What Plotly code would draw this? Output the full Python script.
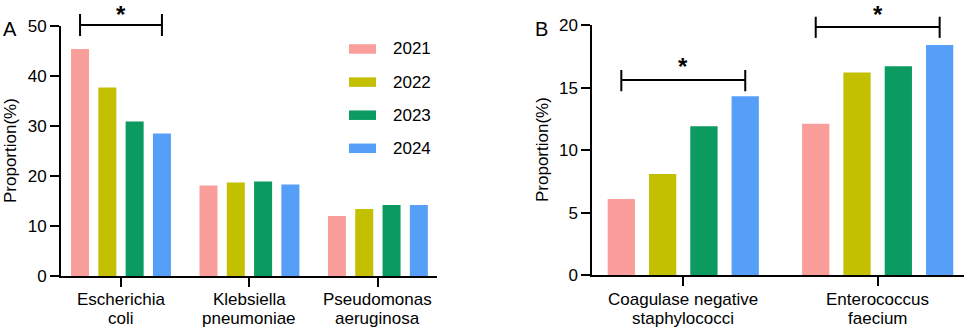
import plotly.graph_objects as go

W, H = 972, 330
FONT = "Liberation Sans, Arial, sans-serif"

years = ["2021", "2022", "2023", "2024"]
colors = ["#FA9E9C", "#C2C000", "#0B9A5F", "#569FF9"]

# Panel A
cats_a = ["Escherichia coli", "Klebsiella pneumoniae", "Pseudomonas aeruginosa"]
labels_a = [("Escherichia", "coli"), ("Klebsiella", "pneumoniae"), ("Pseudomonas", "aeruginosa")]
a_2021 = [45.4, 18.1, 12.0]
a_2022 = [37.7, 18.7, 13.4]
a_2023 = [30.9, 18.9, 14.2]
a_2024 = [28.5, 18.3, 14.2]
vals_a = [a_2021, a_2022, a_2023, a_2024]

# Panel B
cats_b = ["Coagulase negative staphylococci", "Enterococcus faecium"]
labels_b = [("Coagulase negative", "staphylococci"), ("Enterococcus", "faecium")]
b_2021 = [6.1, 12.1]
b_2022 = [8.1, 16.2]
b_2023 = [11.9, 16.7]
b_2024 = [14.3, 18.4]
vals_b = [b_2021, b_2022, b_2023, b_2024]

YMAX_A, YMAX_B = 50, 20

# significance brackets: (category index, bracket height, tick low, tick high, star height)
sig_a = [(0, 50.2, 48.0, 52.4, 52.3)]
sig_b = [(0, 15.6, 14.7, 16.4, 16.7), (1, 19.85, 18.97, 20.66, 20.8)]

BARGAP, BARGROUPGAP = 0.15, 0.34
step = (1 - BARGAP) / 4

fig = go.Figure()
for k, yr in enumerate(years):
    fig.add_trace(go.Bar(x=cats_a, y=vals_a[k], name=yr, marker=dict(color=colors[k], line=dict(width=0)),
                         xaxis="x", yaxis="y", showlegend=False))
    fig.add_trace(go.Bar(x=cats_b, y=vals_b[k], name=yr, marker=dict(color=colors[k], line=dict(width=0)),
                         xaxis="x2", yaxis="y2", showlegend=False))

shapes = []
annotations = []

def add_bracket(xref, yref_dom, ymax, spec):
    i, yh, ylo, yhi, ys = spec
    x0 = i - 1.5 * step
    x1 = i + 1.5 * step
    line = dict(color="black", width=2)
    shapes.append(dict(type="line", xref=xref, yref=yref_dom, x0=x0, x1=x1, y0=yh / ymax, y1=yh / ymax, line=line))
    shapes.append(dict(type="line", xref=xref, yref=yref_dom, x0=x0, x1=x0, y0=ylo / ymax, y1=yhi / ymax, line=line))
    shapes.append(dict(type="line", xref=xref, yref=yref_dom, x0=x1, x1=x1, y0=ylo / ymax, y1=yhi / ymax, line=line))
    annotations.append(dict(xref=xref, yref=yref_dom, x=i, y=ys / ymax, text="<b>*</b>", showarrow=False,
                            borderpad=0,
                            font=dict(size=24, color="black", family=FONT), xanchor="center", yanchor="middle"))

for s in sig_a:
    add_bracket("x", "y domain", YMAX_A, s)
for s in sig_b:
    add_bracket("x2", "y2 domain", YMAX_B, s)

# category labels (two lines, tight spacing)
LINE1_Y, LINE2_Y = 299, 318
for xref, labels in [("x", labels_a), ("x2", labels_b)]:
    for i, (l1, l2) in enumerate(labels):
        for txt, py in [(l1, LINE1_Y), (l2, LINE2_Y)]:
            annotations.append(dict(xref=xref, yref="paper", x=i, y=1 - py / H, text=txt, showarrow=False,
                                    xanchor="center", yanchor="middle",
                                    font=dict(size=17, color="black", family=FONT)))

# manual legend (panel A)
leg_x0, leg_x1, leg_text_x = 349, 376, 391
leg_y0, leg_dy, leg_h = 49, 33.1, 9.5
for k, yr in enumerate(years):
    cy = leg_y0 + k * leg_dy
    shapes.append(dict(type="rect", xref="paper", yref="paper",
                       x0=leg_x0 / W, x1=leg_x1 / W,
                       y0=1 - (cy + leg_h / 2) / H, y1=1 - (cy - leg_h / 2) / H,
                       fillcolor=colors[k], line=dict(width=0)))
    annotations.append(dict(xref="paper", yref="paper", x=leg_text_x / W, y=1 - cy / H, text=yr,
                            showarrow=False, xanchor="left", yanchor="middle",
                            font=dict(size=17, color="black", family=FONT)))

# panel letters and y titles
for txt, px, py in [("A", 10, 28.5), ("B", 541, 28.5)]:
    annotations.append(dict(xref="paper", yref="paper", x=px / W, y=1 - py / H, text=txt, showarrow=False,
                            xanchor="center", yanchor="middle", font=dict(size=20, color="black", family=FONT)))
for px, py in [(11, 151), (542, 150)]:
    annotations.append(dict(xref="paper", yref="paper", x=px / W, y=1 - py / H, text="Proportion(%)",
                            textangle=-90, showarrow=False, xanchor="center", yanchor="middle",
                            font=dict(size=17, color="black", family=FONT)))

axis_common = dict(showline=True, linecolor="black", linewidth=2, ticks="outside", ticklen=9, tickwidth=2,
                   tickcolor="black", showgrid=False, zeroline=False, automargin=False,
                   tickfont=dict(size=17, color="black", family=FONT))

fig.update_layout(
    template="none",
    width=W, height=H,
    margin=dict(l=0, r=0, t=0, b=0, pad=0),
    paper_bgcolor="white", plot_bgcolor="white",
    barmode="group", bargap=BARGAP, bargroupgap=BARGROUPGAP,
    showlegend=False,
    font=dict(family=FONT, color="black"),
    xaxis=dict(domain=[61 / W, 437 / W], type="category", range=[-0.467, 2.46], anchor="y",
               showticklabels=False, **axis_common),
    yaxis=dict(domain=[1 - 276 / H, 1 - 26 / H], range=[0, YMAX_A], dtick=10, anchor="x", **axis_common),
    xaxis2=dict(domain=[592.3 / W, 964 / W], type="category", range=[-0.468, 1.444], anchor="y2",
                showticklabels=False, **axis_common),
    yaxis2=dict(domain=[1 - 275.3 / H, 1 - 25 / H], range=[0, YMAX_B], dtick=5, anchor="x2", **axis_common),
    shapes=shapes,
    annotations=annotations,
)

fig.write_html("out.html", config={"displayModeBar": False},
               post_script="document.body.style.margin='0';document.body.style.overflow='hidden';")
